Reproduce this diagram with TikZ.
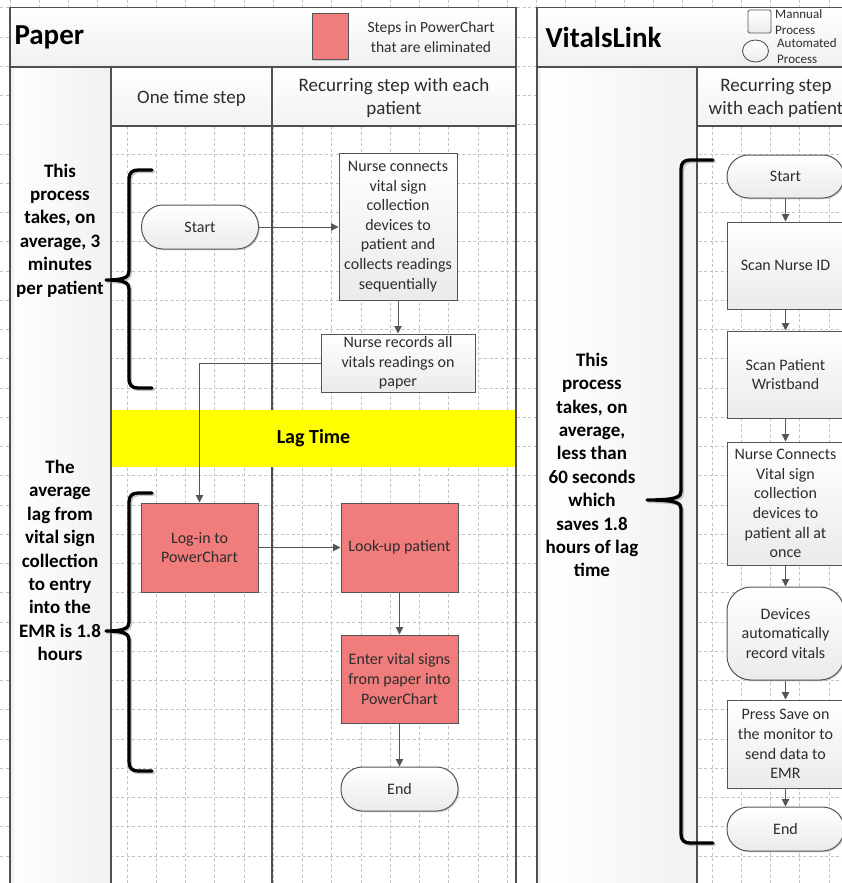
\documentclass[tikz,border=0pt]{standalone}
\usepackage{fontspec}
\setmainfont{Carlito}
\usetikzlibrary{arrows.meta,shadows,shapes.geometric}
\definecolor{redstep}{RGB}{240,124,124}
\definecolor{edgegray}{RGB}{85,85,85}
\definecolor{txtgray}{RGB}{45,45,45}
\definecolor{gridgray}{RGB}{195,195,195}
\definecolor{framegray}{RGB}{80,80,80}
\definecolor{bandyellow}{RGB}{255,255,0}
\newcommand{\nodefnt}{\fontsize{16}{19.6}\selectfont}
\newcommand{\boldfnt}{\fontsize{19}{23.4}\selectfont\bfseries}
\newcommand{\lanefnt}{\fontsize{19}{23}\selectfont}
\newcommand{\legfnt}{\fontsize{15.5}{19.5}\selectfont}
\newcommand{\smallleg}{\fontsize{13}{16.5}\selectfont}
\newcommand{\drawbrace}[6]{%
 \draw[braceshadow] (#1,#4) -- ({#2+9},#4) .. controls ({#2+3},#4) and (#2,{#4+3}) .. (#2,{#4+9}) -- (#2,{#5-9}) .. controls (#2,{#5-3}) and ({#2-4},#5) .. (#3,#5) .. controls ({#2-4},#5) and (#2,{#5+3}) .. (#2,{#5+9}) -- (#2,{#6-9}) .. controls (#2,{#6-3}) and ({#2+3},#6) .. ({#2+9},#6) -- (#1,#6);
 \draw[brace] (#1,#4) -- ({#2+9},#4) .. controls ({#2+3},#4) and (#2,{#4+3}) .. (#2,{#4+9}) -- (#2,{#5-9}) .. controls (#2,{#5-3}) and ({#2-4},#5) .. (#3,#5) .. controls ({#2-4},#5) and (#2,{#5+3}) .. (#2,{#5+9}) -- (#2,{#6-9}) .. controls (#2,{#6-3}) and ({#2+3},#6) .. ({#2+9},#6) -- (#1,#6);}
\tikzset{
  gridline/.style={gridgray, line width=0.6pt, dash pattern=on 3pt off 2.5pt},
  frame/.style={draw=framegray, line width=1.2pt},
  proc/.style={draw=edgegray, line width=1pt, top color=white, bottom color=gray!16,
    text=txtgray, align=center, font=\nodefnt, inner sep=2pt, minimum width=117pt,
    drop shadow={shadow xshift=1.3pt, shadow yshift=-1.3pt, opacity=0.3}},
  term/.style={proc, rounded corners=21.5pt, minimum height=44pt},
  elim/.style={draw=edgegray, line width=1pt, fill=redstep, text=txtgray, align=center,
    font=\nodefnt, inner sep=2pt, minimum width=117pt,
    drop shadow={shadow xshift=1.3pt, shadow yshift=-1.3pt, opacity=0.3}},
  flow/.style={draw=edgegray, line width=1pt, -{Triangle[length=7.5pt,width=7.5pt]}},
  brace/.style={line width=3.3pt, black, line cap=round, line join=round},
  braceshadow/.style={line width=3.3pt, gray, opacity=0.45, line cap=round, line join=round, xshift=1.5pt, yshift=-1.5pt},
  boldtxt/.style={align=center, font=\boldfnt, text=black},
  lanetxt/.style={align=center, font=\lanefnt, text=txtgray},
  title/.style={anchor=west, font=\fontsize{29}{34}\selectfont\bfseries, text=black}
}
\begin{document}
\begin{tikzpicture}[x=1pt,y=-1pt]
\useasboundingbox (0,0) rectangle (842,883);
\clip (0,0) rectangle (842,883);
\fill[white] (0,0) rectangle (842,883);
% background grid
\foreach \i in {0,...,28} \draw[gridline] ({10+29.25*\i},0) -- ({10+29.25*\i},883);
\foreach \j in {0,...,29} \draw[gridline] (0,{7.75+29.25*\j}) -- (842,{7.75+29.25*\j});

% ---------- Paper pool ----------
\fill[top color=white, bottom color=gray!12] (10,7.5) rectangle (516,67);
\fill[left color=white, right color=gray!11] (10,67) rectangle (111,883);
\fill[gray!10] (10,67) rectangle (14,883);
\fill[top color=white, bottom color=gray!10] (111,67) rectangle (272,126);
\fill[top color=white, bottom color=gray!10] (272,67) rectangle (516,126);
\draw[frame] (272,67) -- (272,883);
\fill[bandyellow] (111,410) rectangle (516,467);
\draw[frame] (10,883) -- (10,7.5) -- (516,7.5) -- (516,883);
\draw[frame] (10,67) -- (516,67);
\draw[frame] (111,67) -- (111,883);
\draw[frame] (111,126) -- (516,126);
\draw[frame] (272,67) -- (272,126);

\node[title] (ptitle) at (11,37) {Paper};
\node[elim, minimum width=36pt, minimum height=46pt] (legred) at (330,37) {};
\node[font=\legfnt, text=txtgray, align=center] (legredtxt) at (431,37) {Steps in PowerChart\\that are eliminated};

\node[lanetxt] (lane1) at (191.5,98) {One time step};
\node[lanetxt] (lane2) at (394,98) {Recurring step with each\\patient};

\node[font=\fontsize{20}{24}\selectfont\bfseries, text=black] (lag) at (313.5,438.5) {Lag Time};

\node[boldtxt] (txt1) at (60,230.5) {This\\process\\takes, on\\average, 3\\minutes\\per patient};
\node[boldtxt] (txt2) at (60,560.5) {The\\average\\lag from\\vital sign\\collection\\to entry\\into the\\EMR is 1.8\\hours};

\drawbrace{152}{129}{106}{170}{280}{388}
\drawbrace{152}{129}{106}{493}{631}{771}

\node[term] (start1) at (200,227) {Start};
\node[proc, minimum width=118pt, minimum height=147pt] (nc) at (398,226.5) {Nurse connects\\vital sign\\collection\\devices to\\patient and\\collects readings\\sequentially};
\node[proc, minimum width=154pt, minimum height=58pt, inner sep=1pt] (nr) at (398,363) {Nurse records all\\vitals readings on\\paper};
\node[elim, minimum height=89pt] (login) at (199.5,547.5) {Log-in to\\PowerChart};
\node[elim, minimum height=89pt] (lookup) at (399.5,547.5) {Look-up patient};
\node[elim, minimum height=88pt] (enter) at (399.5,679) {Enter vital signs\\from paper into\\PowerChart};
\node[term] (end1) at (399.5,789) {End};

\draw[flow] (start1.east) -- (start1.east -| nc.west);
\draw[flow] (nc) -- (nr);
\draw[flow] (nr.west) -| (login.north);
\draw[flow] (login) -- (lookup);
\draw[flow] (lookup) -- (enter);
\draw[flow] (enter) -- (end1);

% ---------- VitalsLink pool ----------
\fill[top color=white, bottom color=gray!12] (537,7.5) rectangle (870,67);
\fill[left color=white, right color=gray!11] (537,67) rectangle (697,883);
\fill[gray!10] (537,67) rectangle (541,883);
\fill[top color=white, bottom color=gray!10] (697,67) rectangle (870,126);
\draw[frame] (537,883) -- (537,7.5) -- (870,7.5);
\draw[frame] (537,67) -- (870,67);
\draw[frame] (697,67) -- (697,883);
\draw[frame] (697,126) -- (870,126);

\node[title] (vtitle) at (542,37) {VitalsLink};
\node[draw=edgegray, line width=0.9pt, rounded corners=1.5pt, top color=white, bottom color=gray!15, minimum width=23pt, minimum height=23pt, inner sep=0pt] (legman) at (759.5,21.5) {};
\node[font=\smallleg, text=txtgray, align=left, anchor=west, inner sep=0pt] (legmantxt) at (775,22) {Mannual\\Process};
\node[draw=edgegray, line width=0.9pt, ellipse, top color=white, bottom color=gray!15, minimum width=26pt, minimum height=22pt, inner sep=0pt] (legauto) at (755.5,51) {};
\node[font=\smallleg, text=txtgray, align=left, anchor=west, inner sep=0pt] (legautotxt) at (777,51) {Automated\\Process};

\node[lanetxt] (lane3) at (776,98) {Recurring step\\with each patient};

\node[boldtxt] (txt3) at (592,465) {This\\process\\takes, on\\average,\\less than\\60 seconds\\which\\saves 1.8\\hours of lag\\time};

\drawbrace{713}{681}{647}{160}{500}{843}

\node[term, minimum height=43pt] (start2) at (785.5,176.5) {Start};
\node[proc, minimum height=87pt] (snid) at (785.5,265.5) {Scan Nurse ID};
\node[proc, minimum height=87pt] (spw) at (785.5,374.5) {Scan Patient\\Wristband};
\node[proc, minimum height=123pt] (ncv) at (785.5,503.5) {Nurse Connects\\Vital sign\\collection\\devices to\\patient all at\\once};
\node[proc, rounded corners=24pt, minimum height=93pt] (dev) at (785.5,633.5) {Devices\\automatically\\record vitals};
\node[proc, minimum height=88pt] (save) at (785.5,744) {Press Save on\\the monitor to\\send data to\\EMR};
\node[term] (end2) at (785.5,829) {End};

\draw[flow] (start2) -- (snid);
\draw[flow] (snid) -- (spw);
\draw[flow] (spw) -- (ncv);
\draw[flow] (ncv) -- (dev);
\draw[flow] (dev) -- (save);
\draw[flow] (save) -- (end2);
\end{tikzpicture}
\end{document}
